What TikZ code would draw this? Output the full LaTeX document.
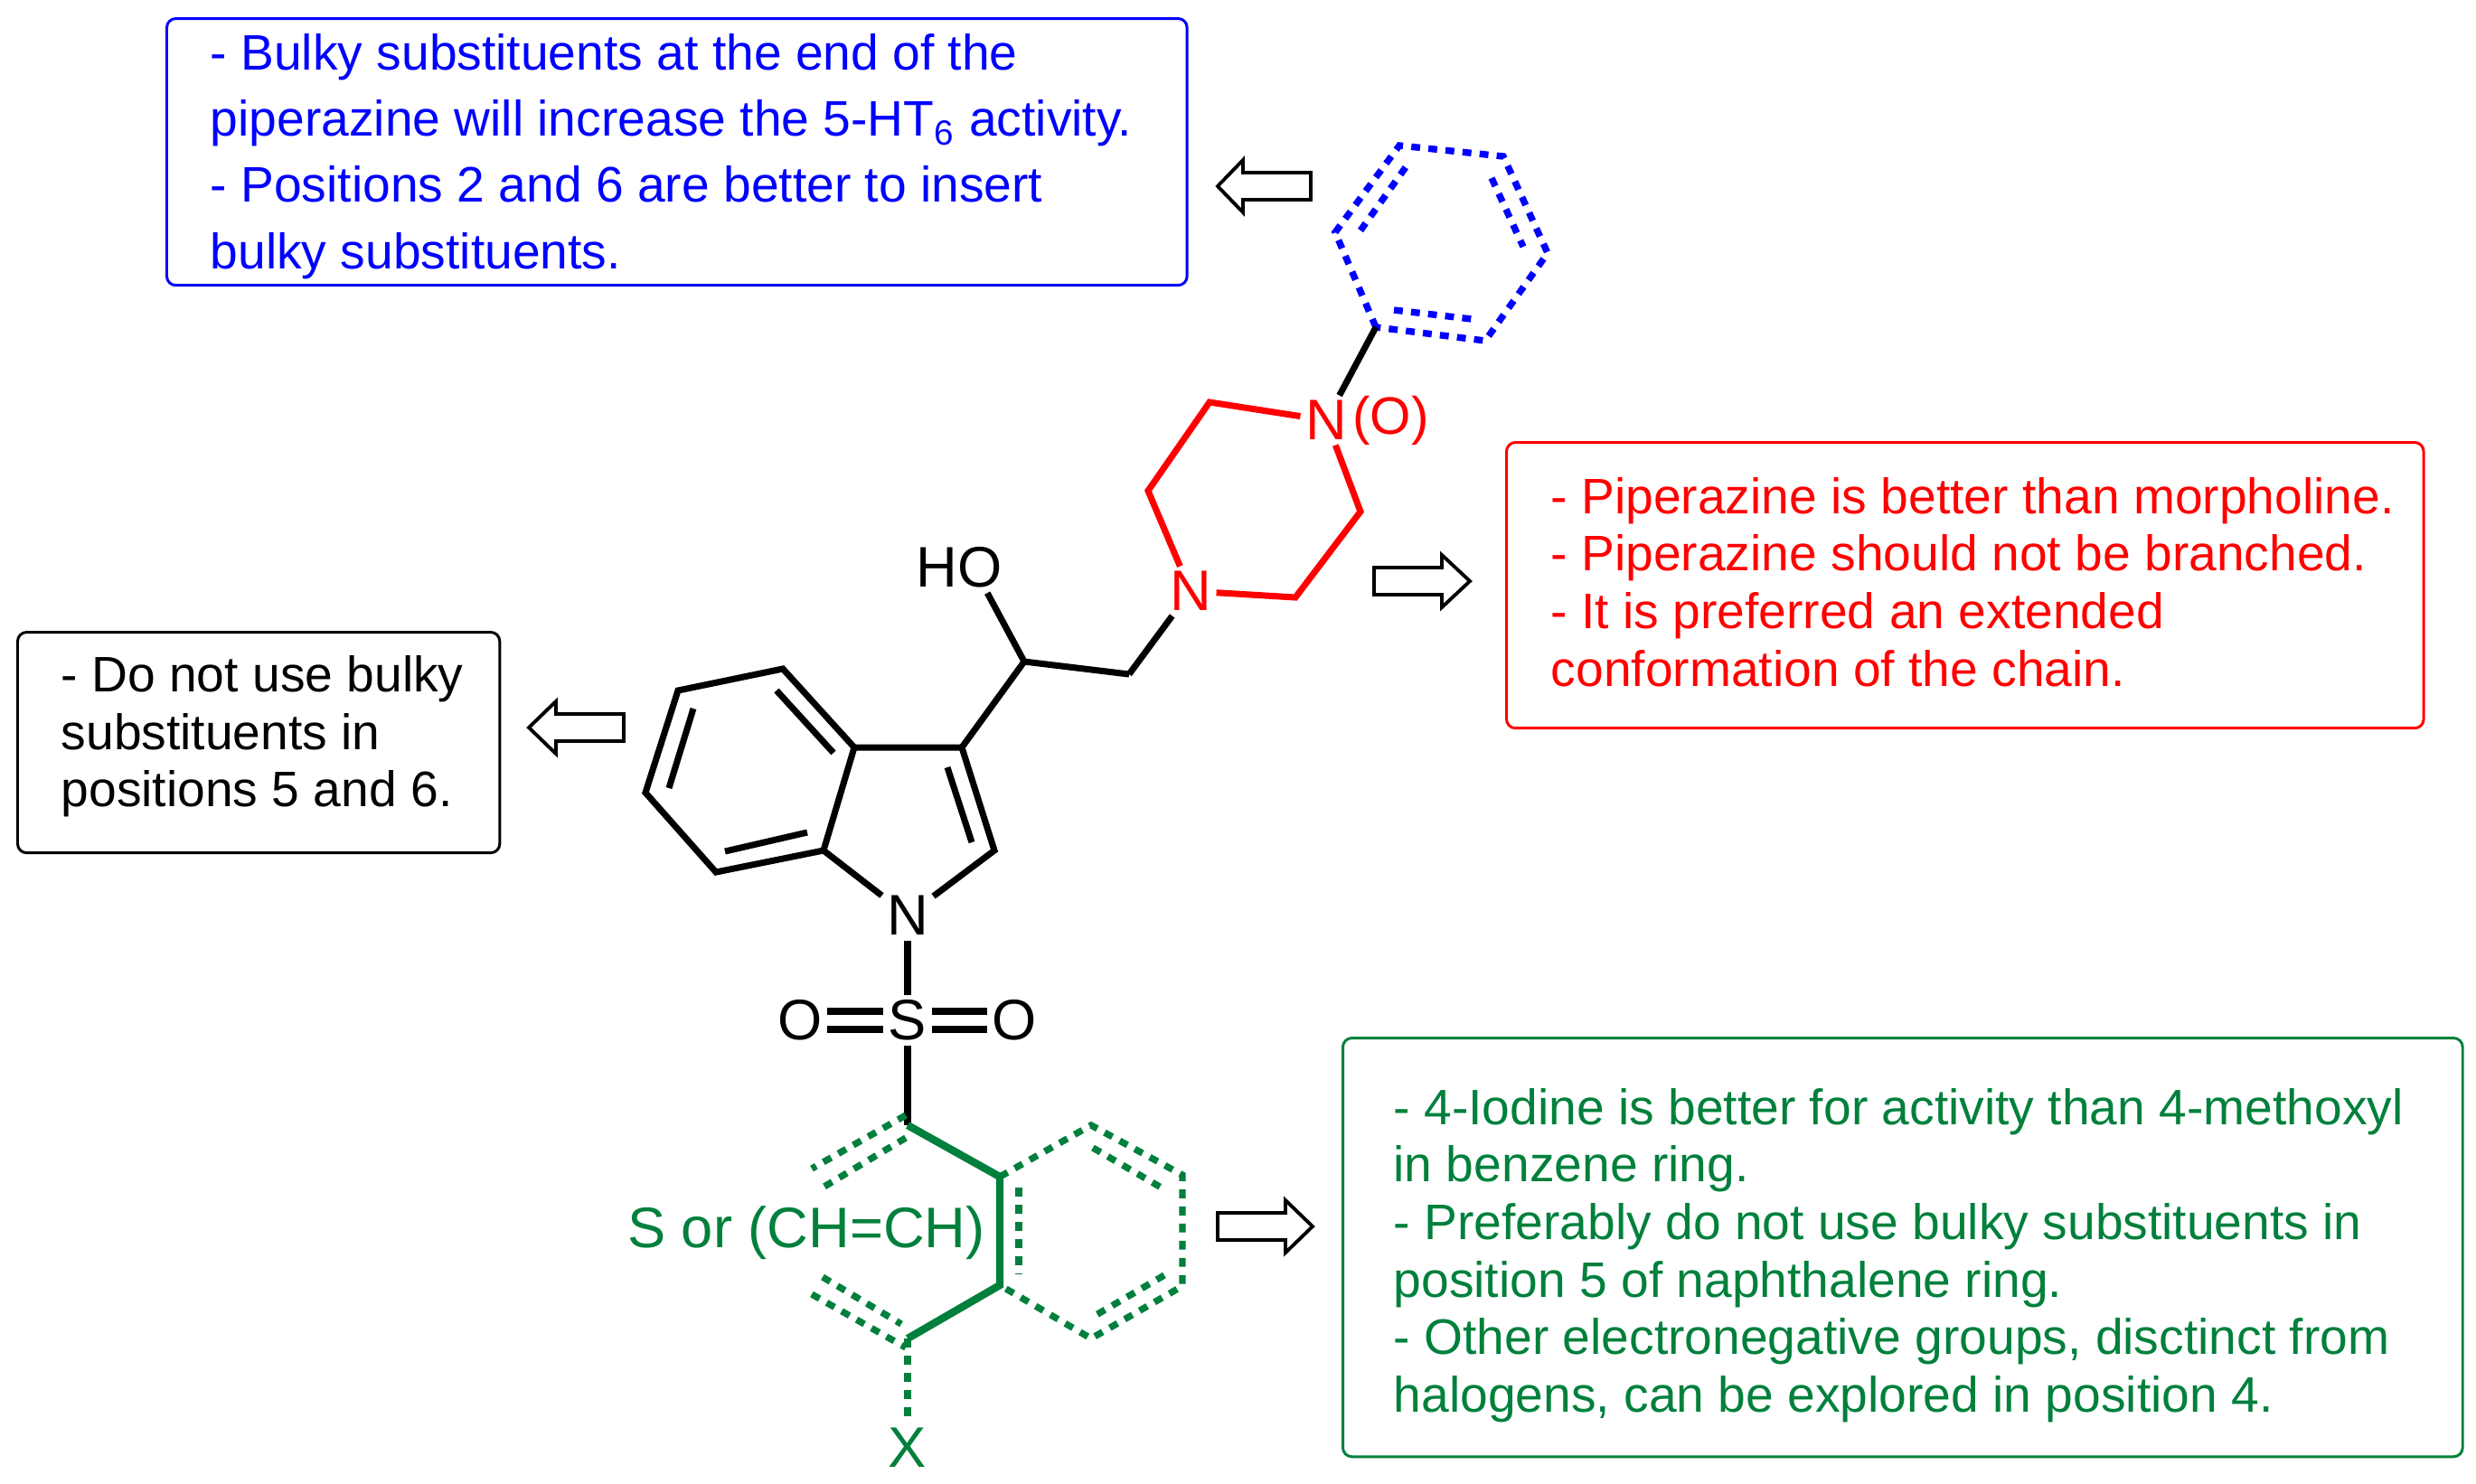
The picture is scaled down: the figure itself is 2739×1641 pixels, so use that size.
\documentclass[tikz,border=0pt]{standalone}
\usepackage{fontspec}
\setmainfont{Liberation Sans}
\usepackage{xcolor}
\usetikzlibrary{positioning}
\definecolor{sarblue}{RGB}{0,0,255}
\definecolor{sarred}{RGB}{255,0,0}
\definecolor{sargreen}{RGB}{0,128,60}
\tikzset{
    bond/.style={line width=2pt,line join=miter},
    dblbond/.style={line width=2.4pt},
    dotbond/.style={line width=2.1pt,dash pattern=on 2.8pt off 2.6pt},
    atom/.style={inner sep=0.05cm,font=\fontsize{18}{20}\selectfont},
    infobox/.style={draw,rounded corners=0.1cm,line width=0.85pt,anchor=north west,inner sep=0},
    infotext/.style={anchor=west,align=left,inner sep=0,font=\fontsize{15.7}{18.1}\selectfont},
    blockarrow/.style={draw=black,fill=white,line width=1.1pt,miter limit=10}
}
\begin{document}
\begin{tikzpicture}[x=0.01cm,y=-0.01cm]
    \useasboundingbox (0,0) rectangle (2739,1641);
    % boxes
    \node[infobox,sarblue,minimum width=11.28cm,minimum height=2.95cm] (bluebox) at (183,19) {};
    \node[infobox,sarred,minimum width=10.14cm,minimum height=3.16cm] (redbox) at (1665,488) {};
    \node[infobox,black,minimum width=5.33cm,minimum height=2.44cm] (blackbox) at (18,698) {};
    \node[infobox,sargreen,minimum width=12.38cm,minimum height=4.63cm] (greenbox) at (1484,1147) {};
    \node[infotext,text=sarblue,font=\fontsize{15.7}{20.8}\selectfont] (bluetext) at (232,173) {- Bulky substituents at the end of the\\piperazine will increase the 5-HT\textsubscript{6} activity.\\- Positions 2 and 6 are better to insert\\bulky substituents.};
    \node[infotext,text=sarred] (redtext) at (1715,644) {- Piperazine is better than morpholine.\\- Piperazine should not be branched.\\- It is preferred an extended\\conformation of the chain.};
    \node[infotext,text=black] (blacktext) at (67,815) {- Do not use bulky\\substituents in\\positions 5 and 6.};
    \node[infotext,text=sargreen] (greentext) at (1541,1389) {- 4-Iodine is better for activity than 4-methoxyl\\in benzene ring.\\- Preferably do not use bulky substituents in\\position 5 of naphthalene ring.\\- Other electronegative groups, disctinct from\\halogens, can be explored in position 4.};
    % block arrows
    \draw[blockarrow] (1450,191)--(1375,191)--(1375,177)--(1347,206)--(1375,235)--(1375,221)--(1450,221)--cycle;
    \draw[blockarrow] (1520,628)--(1595,628)--(1595,614)--(1626,643)--(1595,672)--(1595,658)--(1520,658)--cycle;
    \draw[blockarrow] (690,790)--(615,790)--(615,776)--(585,805)--(615,834)--(615,820)--(690,820)--cycle;
    \draw[blockarrow] (1347,1342)--(1422,1342)--(1422,1328)--(1452,1357)--(1422,1386)--(1422,1372)--(1347,1372)--cycle;
    % indole
    \coordinate (c4) at (866,740);
    \coordinate (c5) at (750,764);
    \coordinate (c6) at (714,877);
    \coordinate (c7) at (792,965);
    \coordinate (c7a) at (911,941);
    \coordinate (c3a) at (945,827);
    \coordinate (c3) at (1064,827);
    \coordinate (c2) at (1100,941);
    \coordinate (cho) at (1133,732);
    \coordinate (cch) at (1249,746);
    \coordinate (i4) at (859,764);
    \coordinate (i3a) at (922,833);
    \coordinate (i5) at (767,784);
    \coordinate (i6) at (740,872);
    \coordinate (i7) at (802,942);
    \coordinate (i7a) at (893,921);
    \coordinate (i3) at (1048,849);
    \coordinate (i2) at (1075,932);
    \node[atom] (nind) at (1004,1013) {N};
    \node[atom] (ho) at (1061,628) {HO};
    \node[atom] (sul) at (1004,1129) {S};
    \node[atom] (oleft) at (885,1129) {O};
    \node[atom] (oright) at (1122,1129) {O};
    \draw[bond] (c3a)--(c4)--(c5)--(c6)--(c7)--(c7a)--cycle;
    \draw[bond] (c3a)--(c3)--(c2)--(nind)--(c7a);
    \draw[bond] (i4)--(i3a);
    \draw[bond] (i5)--(i6);
    \draw[bond] (i7)--(i7a);
    \draw[bond] (i3)--(i2);
    \draw[bond] (c3)--(cho)--(cch);
    \draw[bond] (cho)--(ho.-42);
    \draw[bond] (nind)--(sul);
    \draw[dblbond] ([yshift=0.1cm]oleft.east)--([yshift=0.1cm]sul.west);
    \draw[dblbond] ([yshift=-0.1cm]oleft.east)--([yshift=-0.1cm]sul.west);
    \draw[dblbond] ([yshift=0.1cm]oright.west)--([yshift=0.1cm]sul.east);
    \draw[dblbond] ([yshift=-0.1cm]oright.west)--([yshift=-0.1cm]sul.east);
    % piperazine
    \node[atom,text=sarred] (nlow) at (1317,654) {N};
    \node[atom,text=sarred] (nup) at (1467,465) {N};
    \node[atom,text=sarred,font=\fontsize{16.6}{20}\selectfont,inner xsep=0,right=0pt of nup] (oxo) {(O)};
    \coordinate (p1) at (1338,445);
    \coordinate (p2) at (1270,543);
    \coordinate (p3) at (1433,661);
    \coordinate (p4) at (1505,566);
    \draw[bond,sarred] (nup)--(p1)--(p2)--(nlow)--(p3)--(p4)--(nup);
    \draw[bond] (cch)--(nlow);
    % ring on top
    \coordinate (b1) at (1522,362);
    \coordinate (b2) at (1477,257);
    \coordinate (b3) at (1548,161);
    \coordinate (b4) at (1663,173);
    \coordinate (b5) at (1712,280);
    \coordinate (b6) at (1643,377);
    \coordinate (bi2) at (1505,255);
    \coordinate (bi3) at (1555,185);
    \coordinate (bi4) at (1650,197);
    \coordinate (bi5) at (1685,273);
    \coordinate (bi6) at (1628,353);
    \coordinate (bi1) at (1542,343);
    \draw[dotbond,sarblue] (b1)--(b2)--(b3)--(b4)--(b5)--(b6)--cycle;
    \draw[dotbond,sarblue] (bi2)--(bi3);
    \draw[dotbond,sarblue] (bi4)--(bi5);
    \draw[dotbond,sarblue] (bi1)--(bi6);
    \draw[bond] (nup)--(b1);
    % naphthalene part
    \coordinate (n1) at (1004,1245);
    \coordinate (n8a) at (1106,1302);
    \coordinate (n4a) at (1106,1422);
    \coordinate (n4) at (1004,1481);
    \coordinate (n8) at (1207,1245);
    \coordinate (n7) at (1308,1300);
    \coordinate (n6) at (1308,1423);
    \coordinate (n5) at (1207,1481);
    \coordinate (g1) at (1002,1234);
    \coordinate (g2) at (898,1293);
    \coordinate (g3) at (1002,1259);
    \coordinate (g4) at (910,1314);
    \coordinate (g5) at (910,1413);
    \coordinate (g6) at (997,1465);
    \coordinate (g7) at (898,1432);
    \coordinate (g8) at (1002,1491);
    \coordinate (g9) at (1127,1314);
    \coordinate (g10) at (1127,1409);
    \coordinate (g11) at (1209,1270);
    \coordinate (g12) at (1288,1316);
    \coordinate (g13) at (1288,1411);
    \coordinate (g14) at (1209,1457);
    \node[atom,text=sargreen] (xsub) at (1004,1602) {X};
    \node[atom,text=sargreen] (sch) at (892,1364) {S or (CH=CH)};
    \draw[bond] (sul)--(n1);
    \draw[dblbond,sargreen,line join=miter] (n1)--(n8a)--(n4a)--(n4);
    \draw[dotbond,sargreen] (n8a)--(n8)--(n7)--(n6)--(n5)--(n4a);
    \draw[dotbond,sargreen] (g1)--(g2);
    \draw[dotbond,sargreen] (g3)--(g4);
    \draw[dotbond,sargreen] (g5)--(g6);
    \draw[dotbond,sargreen] (g7)--(g8);
    \draw[dotbond,sargreen] (g9)--(g10);
    \draw[dotbond,sargreen] (g11)--(g12);
    \draw[dotbond,sargreen] (g13)--(g14);
    \draw[dotbond,sargreen] (n4)--(xsub);
\end{tikzpicture}
\end{document}
